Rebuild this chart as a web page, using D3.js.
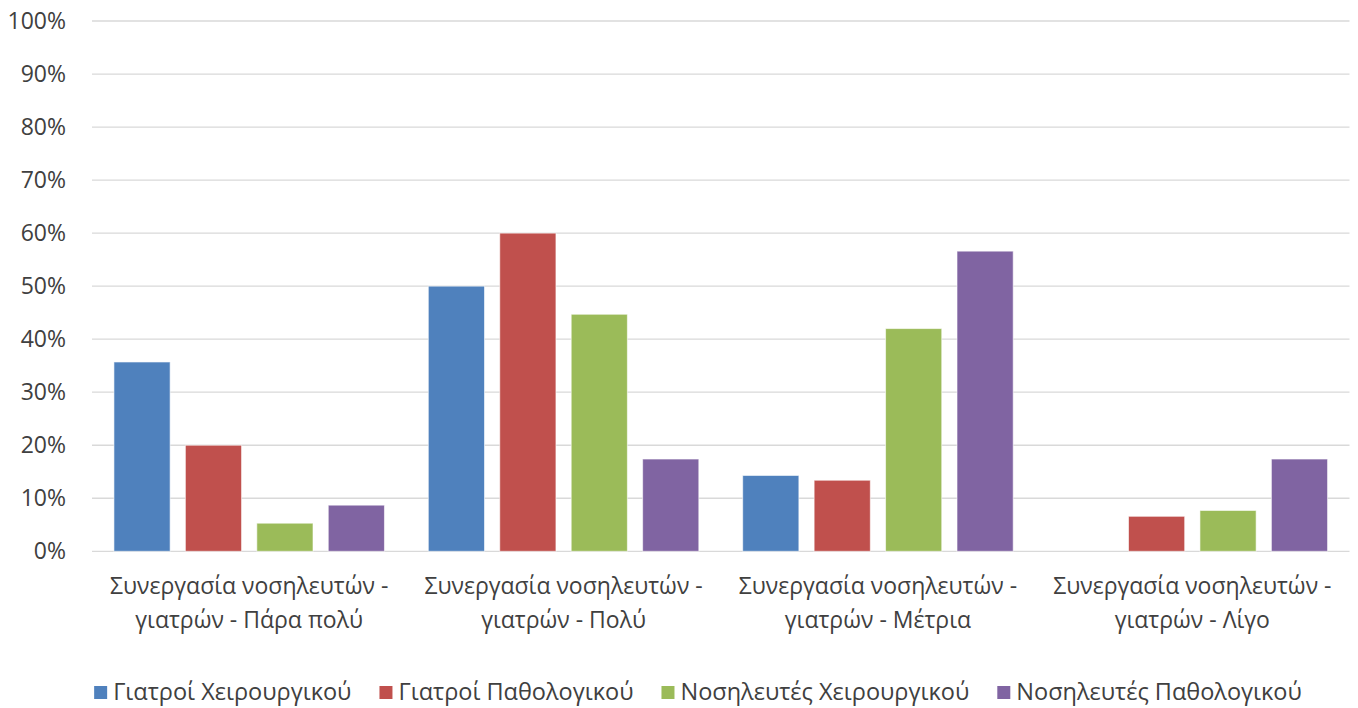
<!DOCTYPE html>
<html>
<head>
<meta charset="utf-8">
<script src="https://cdn.jsdelivr.net/npm/d3@7"></script>
<style>
  html, body { margin: 0; padding: 0; background: #fff; }
  svg text { font-family: "Open Sans", "Noto Sans", sans-serif; fill: #404040; }
</style>
</head>
<body>
<svg id="chart" width="1358" height="708"></svg>
<script>
// Categories (each label wraps on two lines)
const categories = [
  ["Συνεργασία νοσηλευτών -", "γιατρών - Πάρα πολύ"],
  ["Συνεργασία νοσηλευτών -", "γιατρών - Πολύ"],
  ["Συνεργασία νοσηλευτών -", "γιατρών - Μέτρια"],
  ["Συνεργασία νοσηλευτών -", "γιατρών - Λίγο"]
];
const seriesNames = ["Γιατροί Χειρουργικού", "Γιατροί Παθολογικού", "Νοσηλευτές Χειρουργικού", "Νοσηλευτές Παθολογικού"];
const seriesColors = ["#4F81BD", "#C0504D", "#9BBB59", "#8064A2"];

// Percentages per series, one value per category
const giatroiXeir = [35.7, 50.0, 14.3, 0];
const giatroiPath = [20.0, 60.0, 13.4, 6.6];
const nosilXeir   = [5.3, 44.7, 42.0, 7.7];
const nosilPath   = [8.7, 17.4, 56.6, 17.4];
const seriesValues = [giatroiXeir, giatroiPath, nosilXeir, nosilPath];

const yTicks = [0, 10, 20, 30, 40, 50, 60, 70, 80, 90, 100];

const svg = d3.select("#chart");
const plot = { left: 92, right: 1349.5, top: 21, bottom: 551.3 };

const x0 = d3.scaleBand()
  .domain(d3.range(categories.length))
  .range([plot.left, plot.right])
  .padding(0);

const x1 = d3.scaleBand()
  .domain(d3.range(seriesNames.length))
  .range([0, x0.bandwidth()])
  .paddingInner(0.2135)
  .paddingOuter(0.307);

const y = d3.scaleLinear().domain([0, 100]).range([plot.bottom, plot.top]);

// Horizontal gridlines
svg.append("g")
  .selectAll("line")
  .data(yTicks)
  .join("line")
  .attr("x1", plot.left)
  .attr("x2", plot.right)
  .attr("y1", d => y(d))
  .attr("y2", d => y(d))
  .attr("stroke", "#d9d9d9")
  .attr("stroke-width", 1.3);

// Y axis tick labels
const yAxis = d3.axisLeft(y).tickValues(yTicks).tickFormat(d => d + "%").tickSize(0).tickPadding(0);
const yg = svg.append("g").attr("transform", `translate(66,0)`).call(yAxis);
yg.select(".domain").remove();
yg.selectAll("text")
  .attr("font-size", 23)
  .attr("fill", "#404040")
  .attr("font-family", "'Open Sans', 'Noto Sans', sans-serif");

// Bars
const groups = svg.append("g")
  .selectAll("g")
  .data(categories.map((c, i) => i))
  .join("g")
  .attr("transform", i => `translate(${x0(i)},0)`);

groups.selectAll("rect")
  .data(i => seriesValues.map((vals, s) => ({ s, v: vals[i] })))
  .join("rect")
  .attr("x", d => x1(d.s))
  .attr("width", x1.bandwidth())
  .attr("y", d => y(d.v))
  .attr("height", d => y(0) - y(d.v))
  .attr("fill", d => seriesColors[d.s])
  .attr("stroke", "#ffffff")
  .attr("stroke-opacity", 0.6)
  .attr("stroke-width", d => d.v > 0 ? 1 : 0);

// Category labels
const catG = svg.append("g");
categories.forEach((lines, i) => {
  const cx = x0(i) + x0.bandwidth() / 2;
  const t = catG.append("text")
    .attr("x", cx)
    .attr("y", 594)
    .attr("text-anchor", "middle")
    .attr("font-size", 23);
  lines.forEach((ln, k) => {
    t.append("tspan")
      .attr("x", cx)
      .attr("dy", k === 0 ? 0 : 34)
      .text(ln);
  });
});

// Legend
const legend = svg.append("g");
const items = legend.selectAll("g")
  .data(seriesNames.map((n, s) => ({ n, s })))
  .join("g");
items.append("rect")
  .attr("width", 13).attr("height", 13)
  .attr("y", 686)
  .attr("fill", d => seriesColors[d.s]);
items.append("text")
  .attr("x", 19)
  .attr("y", 700)
  .attr("font-size", 23.5)
  .text(d => d.n);
const gap = 28;
const widths = [];
items.each(function () {
  widths.push(19 + d3.select(this).select("text").node().getComputedTextLength());
});
const total = d3.sum(widths) + gap * (widths.length - 1);
let cursor = 698 - total / 2;
items.attr("transform", (d, i) => {
  const tx = cursor;
  cursor += widths[i] + gap;
  return `translate(${tx},0)`;
});
</script>
</body>
</html>
